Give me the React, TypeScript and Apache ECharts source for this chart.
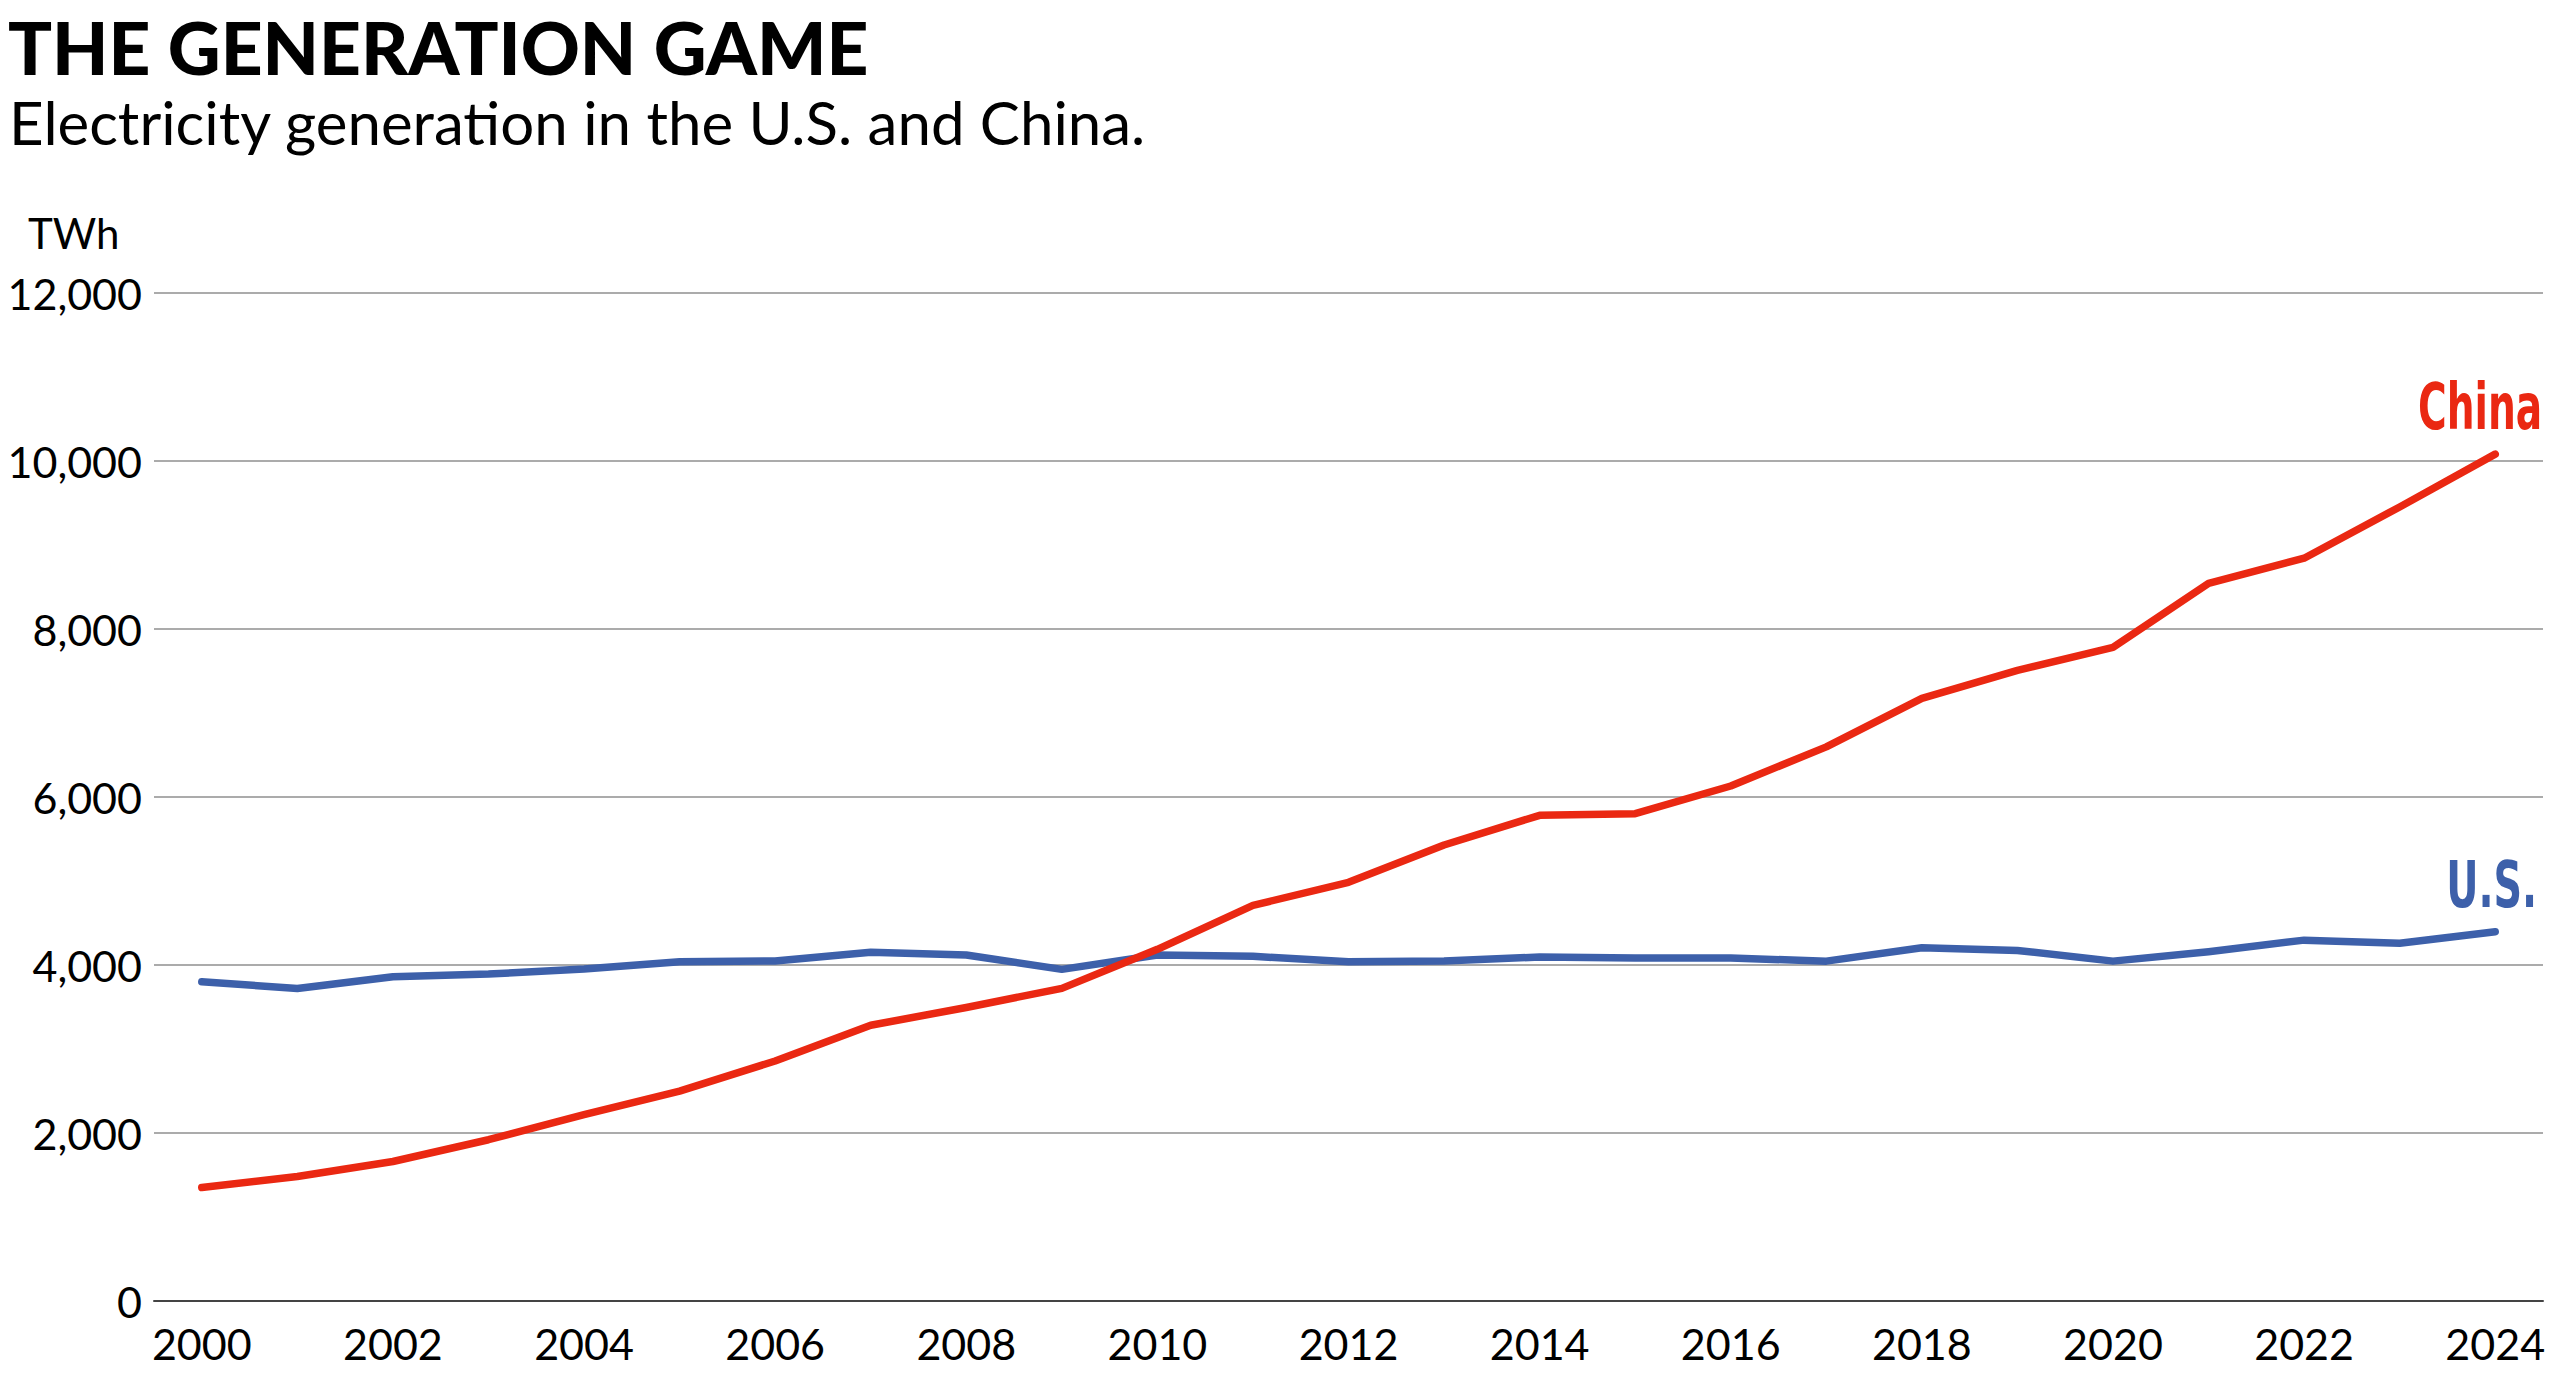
import React, { useEffect, useRef } from "react";
import * as echarts from "echarts";

const years = [
  "2000", "2001", "2002", "2003", "2004", "2005", "2006", "2007", "2008", "2009",
  "2010", "2011", "2012", "2013", "2014", "2015", "2016", "2017", "2018", "2019",
  "2020", "2021", "2022", "2023", "2024",
];
const china = [
  1351, 1482, 1661, 1920, 2219, 2498, 2857, 3283, 3494, 3722,
  4187, 4710, 4984, 5429, 5782, 5802, 6131, 6597, 7175, 7508,
  7781, 8542, 8843, 9453, 10082,
];
const us = [
  3801, 3721, 3861, 3892, 3952, 4040, 4048, 4151, 4120, 3948,
  4119, 4103, 4040, 4048, 4095, 4083, 4083, 4046, 4205, 4173,
  4046, 4159, 4296, 4260, 4396,
];
const yTicks = { min: 0, max: 12000, interval: 2000 };
const titleText = "THE GENERATION GAME";
const subtitleText = "Electricity generation in the U.S. and China.";
const unitText = "TWh";
const seriesNames = ["U.S.", "China"];

const RED = "#EA2812";
const BLUE = "#3D60AA";
const FONT = "Lato, 'Noto Sans', sans-serif";
const COND = "'Liberation Sans Narrow', 'DejaVu Sans Condensed', 'Roboto Condensed', 'DejaVu Sans', sans-serif";

export default function App() {
  const ref = useRef<HTMLDivElement>(null);
  useEffect(() => {
    if (!ref.current) return;
    const chart = echarts.init(ref.current, null, { renderer: "svg" });
    chart.setOption({
      animation: false,
      backgroundColor: "#ffffff",
      grid: { left: 154, right: 17, top: 293, bottom: 78, containLabel: false },
      xAxis: {
        type: "category",
        data: years,
        boundaryGap: true,
        axisTick: { show: false },
        axisLine: { show: true, lineStyle: { color: "#444", width: 2 } },
        axisLabel: {
          interval: 1,
          fontFamily: FONT,
          fontSize: 43,
          color: "#000",
          margin: 21,
        },
        splitLine: { show: false },
      },
      yAxis: {
        type: "value",
        min: yTicks.min,
        max: yTicks.max,
        interval: yTicks.interval,
        axisLine: { show: false },
        axisTick: { show: false },
        axisLabel: {
          fontFamily: FONT,
          fontSize: 43,
          color: "#000",
          margin: 12,
          formatter: (v: number) => v.toLocaleString("en-US"),
        },
        splitLine: { show: true, lineStyle: { color: "#ababab", width: 2 } },
      },
      series: [
        {
          name: seriesNames[0],
          type: "line",
          data: us,
          symbol: "none",
          lineStyle: { color: BLUE, width: 7.5, cap: "round", join: "round" },
          itemStyle: { color: BLUE },
          z: 3,
        },
        {
          name: seriesNames[1],
          type: "line",
          data: china,
          symbol: "none",
          lineStyle: { color: RED, width: 7.5, cap: "round", join: "round" },
          itemStyle: { color: RED },
          z: 4,
        },
      ],
    });

    const last = years.length - 1;
    const pUS = chart.convertToPixel({ gridIndex: 0 }, [years[last], us[last]]) as number[];
    const pCN = chart.convertToPixel({ gridIndex: 0 }, [years[last], china[last]]) as number[];

    chart.setOption({
      graphic: [
        {
          type: "text",
          id: "title",
          x: 8,
          y: 47,
          style: {
            text: titleText,
            fontFamily: FONT,
            fontWeight: 900,
            fontSize: 73,
            fill: "#000",
            verticalAlign: "middle",
          },
        },
        {
          type: "text",
          id: "subtitle",
          x: 9,
          y: 122,
          style: {
            text: subtitleText,
            fontFamily: FONT,
            fontWeight: "normal",
            fontSize: 60,
            fill: "#000",
            verticalAlign: "middle",
          },
        },
        {
          type: "text",
          id: "unit",
          x: 28,
          y: 233,
          style: {
            text: unitText,
            fontFamily: FONT,
            fontSize: 42,
            fill: "#000",
            verticalAlign: "middle",
          },
        },
        {
          type: "text",
          id: "lblCN",
          x: pCN[0] + 47,
          y: pCN[1] - 47,
          scaleX: 0.68,
          style: {
            text: seriesNames[1],
            fontFamily: COND,
            fontWeight: "bold",
            fontSize: 64,
            fill: RED,
            align: "right",
            verticalAlign: "middle",
          },
        },
        {
          type: "text",
          id: "lblUS",
          x: pUS[0] + 42,
          y: pUS[1] - 47,
          scaleX: 0.69,
          style: {
            text: seriesNames[0],
            fontFamily: COND,
            fontWeight: "bold",
            fontSize: 64,
            fill: BLUE,
            align: "right",
            verticalAlign: "middle",
          },
        },
      ],
    });
    return () => chart.dispose();
  }, []);
  return (
    <div
      ref={ref}
      style={{ position: "fixed", left: 0, top: 0, width: 2560, height: 1379 }}
    />
  );
}
